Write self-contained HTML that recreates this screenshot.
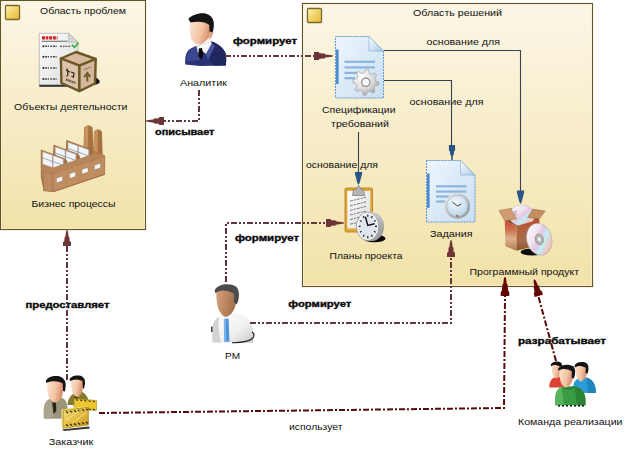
<!DOCTYPE html>
<html><head><meta charset="utf-8">
<style>
html,body{margin:0;padding:0;background:#fff;width:631px;height:460px;overflow:hidden}
svg{display:block}
text{font-family:"Liberation Sans",sans-serif;font-size:9.4px;fill:#111}
.b{font-weight:bold;font-size:8.9px;fill:#0a0a0a;stroke:#0a0a0a;stroke-width:0.35px}
</style></head><body>
<svg width="631" height="460" viewBox="0 0 631 460">
<rect x="0.5" y="0.5" width="145" height="229" fill="url(#boxg)" stroke="#5f5529" stroke-width="1.15"/>
<rect x="1.5" y="1.5" width="143" height="227" fill="none" stroke="#fff8dc" stroke-width="0.8" opacity="0.7"/>
<rect x="5.5" y="5.5" width="14" height="14" rx="1" fill="url(#sq)" stroke="#7a6a2a" stroke-width="1.3"/>
<rect x="302.5" y="3.5" width="290" height="283" fill="url(#boxg)" stroke="#5f5529" stroke-width="1.15"/>
<rect x="303.5" y="4.5" width="288" height="281" fill="none" stroke="#fff8dc" stroke-width="0.8" opacity="0.7"/>
<rect x="307.5" y="8.5" width="14" height="14" rx="1" fill="url(#sq)" stroke="#7a6a2a" stroke-width="1.3"/>
<defs>
<linearGradient id="boxg" x1="0" y1="0" x2="0" y2="1">
<stop offset="0" stop-color="#fcf6e6"/><stop offset="1" stop-color="#f2e2a9"/>
</linearGradient>
<linearGradient id="sq" x1="0" y1="0" x2="1" y2="1">
<stop offset="0" stop-color="#fff6c0"/><stop offset="0.45" stop-color="#f4d670"/><stop offset="1" stop-color="#e6b433"/>
</linearGradient>
<linearGradient id="skin" x1="0" y1="0" x2="1" y2="0.3">
<stop offset="0" stop-color="#fde6d2"/><stop offset="0.6" stop-color="#f3c4a4"/><stop offset="1" stop-color="#d98f6c"/>
</linearGradient>
<linearGradient id="skin2" x1="0" y1="0" x2="1" y2="0.3">
<stop offset="0" stop-color="#d9a47c"/><stop offset="1" stop-color="#a56f4c"/>
</linearGradient>
<linearGradient id="suit" x1="0" y1="0" x2="1" y2="1">
<stop offset="0" stop-color="#4852a0"/><stop offset="1" stop-color="#1e2660"/>
</linearGradient>
<linearGradient id="shirt" x1="0" y1="0" x2="1" y2="1">
<stop offset="0" stop-color="#ffffff"/><stop offset="0.6" stop-color="#f0f0f0"/><stop offset="1" stop-color="#c8c8c8"/>
</linearGradient>
<linearGradient id="doc" x1="0" y1="0" x2="1" y2="1">
<stop offset="0" stop-color="#eef6fd"/><stop offset="1" stop-color="#c9def2"/>
</linearGradient>
<linearGradient id="fold" x1="0" y1="0" x2="1" y2="1">
<stop offset="0" stop-color="#ffffff"/><stop offset="1" stop-color="#a9c8e6"/>
</linearGradient>
<radialGradient id="gear" cx="0.35" cy="0.3" r="0.8">
<stop offset="0" stop-color="#ffffff"/><stop offset="0.6" stop-color="#d8d8d8"/><stop offset="1" stop-color="#9a9a9a"/>
</radialGradient>
<radialGradient id="clockface" cx="0.4" cy="0.35" r="0.7">
<stop offset="0" stop-color="#f4f9ff"/><stop offset="1" stop-color="#b9d3ea"/>
</radialGradient>
<linearGradient id="ring" x1="0" y1="0" x2="1" y2="1">
<stop offset="0" stop-color="#f2f2f2"/><stop offset="1" stop-color="#8a8a8a"/>
</linearGradient>
<linearGradient id="cd" x1="0" y1="0" x2="1" y2="1">
<stop offset="0" stop-color="#f4f4f4"/><stop offset="0.3" stop-color="#e8d6ec"/><stop offset="0.55" stop-color="#c9eef4"/><stop offset="0.8" stop-color="#f2c8c0"/><stop offset="1" stop-color="#8ad8e8"/>
</linearGradient>
<linearGradient id="paper" x1="0" y1="0" x2="1" y2="1">
<stop offset="0" stop-color="#ffffff"/><stop offset="1" stop-color="#d9d9d9"/>
</linearGradient>
<linearGradient id="gold" x1="0" y1="0" x2="1" y2="1">
<stop offset="0" stop-color="#fbe07a"/><stop offset="1" stop-color="#c99a14"/>
</linearGradient>
<linearGradient id="cd2" x1="0" y1="0" x2="1" y2="1">
<stop offset="0" stop-color="#ffffff"/><stop offset="0.35" stop-color="#f1e6f2"/><stop offset="0.5" stop-color="#e6c6e0"/><stop offset="0.62" stop-color="#bfeef6"/><stop offset="0.8" stop-color="#f4c4bc"/><stop offset="1" stop-color="#6fd0e6"/>
</linearGradient>
<linearGradient id="boxl" x1="0" y1="0" x2="0" y2="1">
<stop offset="0" stop-color="#d24632"/><stop offset="0.3" stop-color="#c9744e"/><stop offset="0.6" stop-color="#deb08c"/><stop offset="1" stop-color="#b07850"/>
</linearGradient>
<linearGradient id="boxr" x1="0" y1="0" x2="0" y2="1">
<stop offset="0" stop-color="#c43c2a"/><stop offset="0.25" stop-color="#b0603c"/><stop offset="0.7" stop-color="#a86c46"/><stop offset="1" stop-color="#8a5434"/>
</linearGradient>
</defs>

<path d="M335.5,36.5 L369.0,36.5 L383.5,51.0 L383.5,98.0 L335.5,98.0 Z" fill="url(#doc)" stroke="#5f97cf" stroke-width="1" stroke-dasharray="2 1"/>
<path d="M369.0,36.5 L369.0,51.0 L383.5,51.0 Z" fill="url(#fold)" stroke="#7aaad8" stroke-width="0.6"/>
<rect x="336.0" y="49.5" width="2.6" height="34.440000000000005" fill="#4b8dcc"/>
<rect x="344.5" y="60.7" width="30.5" height="2.2" fill="#8cb5dd"/>
<rect x="344.5" y="66.3" width="30.5" height="2.2" fill="#8cb5dd"/>
<rect x="344.5" y="71.8" width="15.5" height="2.2" fill="#8cb5dd"/>
<rect x="344.5" y="77.1" width="10.5" height="2.2" fill="#8cb5dd"/>
<polygon points="378.80,82.30 378.55,84.84 374.69,85.98 373.80,87.64 374.99,91.49 373.02,93.11 369.48,91.19 367.68,91.74 365.80,95.30 363.26,95.05 362.12,91.19 360.46,90.30 356.61,91.49 354.99,89.52 356.91,85.98 356.36,84.18 352.80,82.30 353.05,79.76 356.91,78.62 357.80,76.96 356.61,73.11 358.58,71.49 362.12,73.41 363.92,72.86 365.80,69.30 368.34,69.55 369.48,73.41 371.14,74.30 374.99,73.11 376.61,75.08 374.69,78.62 375.24,80.42" fill="url(#gear)" stroke="#9a9a9a" stroke-width="0.6"/><circle cx="365.8" cy="82.3" r="4.16" fill="#f8f8f8" stroke="#8a8a8a" stroke-width="1.2"/>
<path d="M426.5,160.5 L460.5,160.5 L475.0,175.0 L475.0,222.0 L426.5,222.0 Z" fill="url(#doc)" stroke="#5f97cf" stroke-width="1" stroke-dasharray="2 1"/>
<path d="M460.5,160.5 L460.5,175.0 L475.0,175.0 Z" fill="url(#fold)" stroke="#7aaad8" stroke-width="0.6"/>
<rect x="427.0" y="173.5" width="2.6" height="34.440000000000005" fill="#4b8dcc"/>
<rect x="436" y="185.2" width="30.399999999999977" height="2.2" fill="#8cb5dd"/>
<rect x="436" y="190.5" width="30.399999999999977" height="2.2" fill="#8cb5dd"/>
<rect x="436" y="195.4" width="14" height="2.2" fill="#8cb5dd"/>
<rect x="436" y="200.4" width="9" height="2.2" fill="#8cb5dd"/>
<circle cx="457.3" cy="206" r="12.8" fill="url(#ring)"/>
<circle cx="457.3" cy="206" r="10.600000000000001" fill="url(#clockface)" stroke="#9aa" stroke-width="0.5"/>
<path d="M452.3,202 L457.3,206 L461.3,204" fill="none" stroke="#444" stroke-width="1"/>
<rect x="456.5" y="214.8" width="1.6" height="2" fill="#c04020"/>
<rect x="345" y="188" width="27.5" height="44" rx="1.5" fill="#e0a533" stroke="#b3761a" stroke-width="0.8"/>
<rect x="347.3" y="191" width="23" height="37.5" fill="url(#paper)"/>
<path d="M350,201.2 L366,197.2" stroke="#6a6a6a" stroke-width="0.9" stroke-dasharray="3 1 2 1"/>
<path d="M350,205.79999999999998 L366,201.79999999999998" stroke="#6a6a6a" stroke-width="0.9" stroke-dasharray="3 1 2 1"/>
<path d="M350,210.39999999999998 L366,206.39999999999998" stroke="#6a6a6a" stroke-width="0.9" stroke-dasharray="3 1 2 1"/>
<path d="M350,215.0 L366,211.0" stroke="#6a6a6a" stroke-width="0.9" stroke-dasharray="3 1 2 1"/>
<path d="M350,219.6 L366,215.6" stroke="#6a6a6a" stroke-width="0.9" stroke-dasharray="3 1 2 1"/>
<path d="M350,224.2 L366,220.2" stroke="#6a6a6a" stroke-width="0.9" stroke-dasharray="3 1 2 1"/>
<path d="M352.5,195.5 L353.5,190 L356,189.2 L358.5,185.5 L361,189.2 L363.5,190 L364.5,195.5 Z" fill="#b5b5b5" stroke="#777" stroke-width="0.7"/>
<ellipse cx="374.5" cy="238.5" rx="11" ry="3.8" fill="#0a0a0a"/>
<ellipse cx="371.8" cy="226.5" rx="12.2" ry="14.6" fill="url(#ring)"/>
<ellipse cx="367.6" cy="226.4" rx="11.2" ry="14.2" fill="#f6f8fa" stroke="#8f8f8f" stroke-width="0.8"/>
<ellipse cx="367.9" cy="226.6" rx="9.4" ry="12.3" fill="#dfe5ec"/>
<line x1="377.00" y1="226.40" x2="375.00" y2="226.40" stroke="#1a1a1a" stroke-width="1.1"/>
<line x1="375.77" y1="232.40" x2="374.04" y2="231.20" stroke="#1a1a1a" stroke-width="1.1"/>
<line x1="372.40" y1="236.79" x2="371.40" y2="234.71" stroke="#1a1a1a" stroke-width="1.1"/>
<line x1="367.80" y1="238.40" x2="367.80" y2="236.00" stroke="#1a1a1a" stroke-width="1.1"/>
<line x1="363.20" y1="236.79" x2="364.20" y2="234.71" stroke="#1a1a1a" stroke-width="1.1"/>
<line x1="359.83" y1="232.40" x2="361.56" y2="231.20" stroke="#1a1a1a" stroke-width="1.1"/>
<line x1="358.60" y1="226.40" x2="360.60" y2="226.40" stroke="#1a1a1a" stroke-width="1.1"/>
<line x1="359.83" y1="220.40" x2="361.56" y2="221.60" stroke="#1a1a1a" stroke-width="1.1"/>
<line x1="363.20" y1="216.01" x2="364.20" y2="218.09" stroke="#1a1a1a" stroke-width="1.1"/>
<line x1="367.80" y1="214.40" x2="367.80" y2="216.80" stroke="#1a1a1a" stroke-width="1.1"/>
<line x1="372.40" y1="216.01" x2="371.40" y2="218.09" stroke="#1a1a1a" stroke-width="1.1"/>
<line x1="375.77" y1="220.40" x2="374.04" y2="221.60" stroke="#1a1a1a" stroke-width="1.1"/>
<path d="M365.4,216.8 L367.8,225.5 L374.5,223.8" fill="none" stroke="#111" stroke-width="1.4"/>
<ellipse cx="532" cy="252" rx="11.5" ry="3.6" fill="#0c0c0c"/>
<polygon points="504.8,220.8 510.7,208.4 532.8,209.1 539.3,219.5 516.5,226" fill="#8a4a2c"/>
<ellipse cx="522" cy="215.5" rx="12.8" ry="10.5" fill="url(#cd2)" stroke="#a8a8b8" stroke-width="0.4"/>
<path d="M514,211 l0,5 M516,210 l0,6 M512,213 l0,4" stroke="#9a7aa0" stroke-width="0.7"/>
<polygon points="504.8,220.8 516.5,226 516.5,250.8 505.4,246.3" fill="url(#boxl)"/>
<polygon points="516.5,226 539.3,219.5 539.3,245 516.5,250.8" fill="url(#boxr)"/>
<polygon points="498.9,210.4 510.7,208.4 516.5,218.9 504.8,220.8" fill="#cf9c72" stroke="#9a6a45" stroke-width="0.5"/>
<polygon points="532.8,209.1 545.2,211 539.3,218.9 527.6,217.6" fill="#c48d62" stroke="#9a6a45" stroke-width="0.5"/>
<ellipse cx="539.3" cy="239.3" rx="12.6" ry="16.2" transform="rotate(-14 539.3 239.3)" fill="url(#cd2)" stroke="#a0a0aa" stroke-width="0.5"/>
<ellipse cx="539.3" cy="239.3" rx="4" ry="5.4" transform="rotate(-14 539.3 239.3)" fill="#b4b4b4" stroke="#7a7a7a" stroke-width="0.6"/>
<ellipse cx="539.3" cy="239.3" rx="1.5" ry="2.1" transform="rotate(-14 539.3 239.3)" fill="#f4f4f4"/>
<path d="M39.3,33.3 L68.6,33.3 L78,42.4 L78,86.5 L39.3,86.5 Z" fill="url(#paper)" stroke="#b0b0b0" stroke-width="0.8"/>
<path d="M39.3,84.8 L78,84.8 L78,86.8 L39.3,86.8 Z" fill="#333"/>
<path d="M68.6,33.3 L68.6,42.4 L78,42.4 Z" fill="#d4d4d4" stroke="#a8a8a8" stroke-width="0.5"/>
<path d="M42,37.8 L57.5,37.8" stroke="#d42424" stroke-width="3.2" stroke-dasharray="3 0.8 2.5 0.8 3 0.8"/>
<rect x="41.5" y="40.8" width="26" height="0.8" fill="#444"/>
<rect x="42.5" y="45.4" width="1.8" height="1.8" fill="#222"/>
<path d="M45.2,46.3 L58,46.3" stroke="#444" stroke-width="1.5" stroke-dasharray="2 0.7 1 1.5 1.5 1"/>
<rect x="42.5" y="55.9" width="1.8" height="1.8" fill="#222"/>
<path d="M45.2,56.8 L58,56.8" stroke="#444" stroke-width="1.5" stroke-dasharray="2 0.7 1 1.5 1.5 1"/>
<rect x="42.5" y="67.0" width="1.8" height="1.8" fill="#222"/>
<path d="M45.2,67.9 L58,67.9" stroke="#444" stroke-width="1.5" stroke-dasharray="2 0.7 1 1.5 1.5 1"/>
<rect x="42.5" y="78.1" width="1.8" height="1.8" fill="#222"/>
<path d="M45.2,79 L58,79" stroke="#444" stroke-width="1.5" stroke-dasharray="2 0.7 1 1.5 1.5 1"/>
<path d="M60,46.3 L71,46.3" stroke="#555" stroke-width="1.3" stroke-dasharray="2 1 1.5 0.8 2 1"/>
<path d="M72,44.8 L74.5,47.2 L78.5,42.6" fill="none" stroke="#38b038" stroke-width="1.7"/>
<polygon points="95.5,77 99.5,80.5 99.5,83 95.3,85" fill="#111"/>
<polygon points="60.9,58.5 76.1,52 95.7,59 79.4,65.6" fill="#d9b99d" stroke="#6a5826" stroke-width="2.4" stroke-linejoin="round"/>
<polygon points="60.9,58.5 79.4,65.6 79.4,91.1 61.4,83" fill="#dcc3aa" stroke="#6a5826" stroke-width="2.4" stroke-linejoin="round"/>
<polygon points="79.4,65.6 95.7,59 95.1,83.5 79.4,91.1" fill="#d3b89c" stroke="#6a5826" stroke-width="2.4" stroke-linejoin="round"/>
<path d="M66,70 l4,2 M67,68.5 l1,6 l-1.5,2 M71,72 l3,1.2 l-0.5,4 l-2,-1" stroke="#2a2418" stroke-width="1.2" fill="none"/>
<path d="M66,79.5 L75.5,83" stroke="#4a4030" stroke-width="2.2" stroke-dasharray="1 0.6"/>
<path d="M87.3,81.5 L87.3,75 M84.3,77.3 L87.3,73 L90.3,76.8" stroke="#6e5e2a" stroke-width="2" fill="none"/>
<path d="M84,69.5 L91.5,67" stroke="#6e5e2a" stroke-width="1" stroke-dasharray="1.5 0.8"/>
<path d="M83.8,150 L84.6,127.5 Q88.4,124 92.2,127.5 L93,150 Z" fill="#a8723f" stroke="#8a5a30" stroke-width="0.6"/>
<path d="M84.6,127.5 Q86.5,125.5 88.2,125.5 L87.8,150 L83.8,150 Z" fill="#c9925e"/>
<path d="M93.5,157 L94.3,131.5 Q97.9,128 101.5,131.5 L102.3,157 Z" fill="#a8723f" stroke="#8a5a30" stroke-width="0.6"/>
<path d="M94.3,131.5 Q96,129.5 97.8,129.5 L97.5,157 L93.5,157 Z" fill="#c9925e"/>
<polygon points="41.2,150 53,154.5 53.9,145 65.8,150.6 66.6,140.3 90.4,149 104.7,155.3 104.7,174.4 53,191.8 43.6,191 41.2,179" fill="#b07a4b"/>
<polygon points="66.6,140.6 90.1,149.2 90.1,176.6 66.6,168.6" fill="#b8845a" stroke="#8c5c33" stroke-width="0.5"/>
<polygon points="90.1,149.2 92.6,151.6 92.6,176.6 90.1,176.6" fill="#9c6a42"/>
<polygon points="68.19999999999999,142.5 77.6,145.9 77.6,157.9 68.19999999999999,154.5" fill="#f2f6fa" stroke="#b9c6d0" stroke-width="0.4"/>
<polygon points="78.69999999999999,146.29999999999998 88.39999999999999,149.79999999999998 88.39999999999999,161.79999999999998 78.69999999999999,158.29999999999998" fill="#f2f6fa" stroke="#b9c6d0" stroke-width="0.4"/>
<path d="M68.19999999999999,148.5 L88.39999999999999,155.79999999999998" stroke="#8595a4" stroke-width="0.8"/>
<polygon points="53.9,145.2 77.4,153.79999999999998 77.4,181.2 53.9,173.2" fill="#b8845a" stroke="#8c5c33" stroke-width="0.5"/>
<polygon points="77.4,153.79999999999998 79.9,156.2 79.9,181.2 77.4,181.2" fill="#9c6a42"/>
<polygon points="55.5,147.1 64.9,150.5 64.9,162.5 55.5,159.1" fill="#f2f6fa" stroke="#b9c6d0" stroke-width="0.4"/>
<polygon points="66.0,150.89999999999998 75.7,154.39999999999998 75.7,166.39999999999998 66.0,162.89999999999998" fill="#f2f6fa" stroke="#b9c6d0" stroke-width="0.4"/>
<path d="M55.5,153.1 L75.7,160.39999999999998" stroke="#8595a4" stroke-width="0.8"/>
<polygon points="41.2,150 64.7,158.6 64.7,186 41.2,178" fill="#b8845a" stroke="#8c5c33" stroke-width="0.5"/>
<polygon points="64.7,158.6 67.2,161 67.2,186 64.7,186" fill="#9c6a42"/>
<polygon points="42.800000000000004,151.9 52.2,155.3 52.2,167.3 42.800000000000004,163.9" fill="#f2f6fa" stroke="#b9c6d0" stroke-width="0.4"/>
<polygon points="53.300000000000004,155.7 63.0,159.2 63.0,171.2 53.300000000000004,167.7" fill="#f2f6fa" stroke="#b9c6d0" stroke-width="0.4"/>
<path d="M42.800000000000004,157.9 L63.0,165.2" stroke="#8595a4" stroke-width="0.8"/>
<polygon points="43.6,170.8 53,173.8 53,191.8 43.6,190.5" fill="#bb8a5e" stroke="#9a6a42" stroke-width="0.5"/>
<polygon points="53,173.8 104.7,156.1 104.7,174.4 53,191.8" fill="#c08d61" stroke="#9a6a42" stroke-width="0.5"/>
<polygon points="43.6,170.8 95,153.3 104.7,156.1 53,173.8" fill="#b7855a"/>
<path d="M53,191.8 L104.7,174.4" stroke="#9a6a42" stroke-width="0.8"/>
<polygon points="56.5,178.2 62.5,176.2 62.5,180.79999999999998 56.5,182.79999999999998" fill="#f4f8fa" stroke="#8a7a6a" stroke-width="0.4"/>
<polygon points="69.5,173.8 75.5,171.8 75.5,176.4 69.5,178.4" fill="#f4f8fa" stroke="#8a7a6a" stroke-width="0.4"/>
<polygon points="82,169.5 88,167.5 88,172.1 82,174.1" fill="#f4f8fa" stroke="#8a7a6a" stroke-width="0.4"/>
<polygon points="94.5,165.2 100.5,163.2 100.5,167.79999999999998 94.5,169.79999999999998" fill="#f4f8fa" stroke="#8a7a6a" stroke-width="0.4"/>
<path d="M185.3,64.5 C184.8,57 186,51.5 190,49 C193,47 196,46 198,45.5 L211.5,41.5 C218,43.5 223.5,48 225.5,53 C226.5,57 226.3,61 225.8,65.5 L200,66 Z" fill="#283274"/>
<path d="M186.5,62 C186,56 188,51 192,48.5 L197,46.5 L199.5,60 Z" fill="#3b4590"/>
<path d="M211.5,41.5 C218,43.5 223.5,48 225.5,53 C226.5,57 226.3,61 225.8,65.5 L214,65.8 L207,56 Z" fill="#1f275e"/>
<path d="M196.5,46 L210.5,41.5 L212,43.5 L206,54 L201,50 L198,53 Z" fill="#f6f6f6"/>
<path d="M198.7,48.5 L202,48 L203.3,55.5 L201,60 L198.5,56 Z" fill="#0c0c0c"/>
<path d="M206,54 L212,43.5 L215,46 L208,60 Z" fill="#4a55a2"/>
<path d="M190,22 C189.5,30 190,37 192,40 C194,43 197,44.5 199.5,44.5 C203,44 206.5,41 208.5,37.5 L210.5,31 L211,24 C207,21 197,20.5 190,22 Z" fill="url(#skin)"/>
<path d="M188.3,19 C191,15.5 197,13 203.5,13.2 C209,13.5 213.5,17.5 213.8,23 C214,27 213.3,31 212.3,33.5 L211,37 L209.5,31.5 L209.3,25 C205,21.5 198,21 190.5,22.5 Z" fill="#141414"/>
<path d="M209.5,32 C211.5,31 213,32.5 212.5,35 C212,37.5 210.5,39 208.5,39.5 Z" fill="#e0a584"/>
<path d="M212.3,342.5 L212.3,330 C212.5,322 217,317.5 222,315.5 L236,313 C245,315 252,320 252.8,330 L253,342.8 Z" fill="url(#shirt)"/>
<path d="M212.3,342.5 L212.3,330 C212.5,322 216,318.5 219,317 C218,325 219,335 221,342.5 Z" fill="#d2d2d2"/>
<path d="M223.8,319 L228.6,318.5 L229.5,341.8 L224.2,341.8 Z" fill="#4f95dc"/>
<path d="M224,319 L226,318.8 L226,341.8 L224.2,341.8 Z" fill="#7ab4ec"/>
<path d="M211.8,326.5 L211.8,332" stroke="#111" stroke-width="1.2"/>
<path d="M232,342.7 C240,343 251,341.5 253.5,337 C254.5,335 253.5,333 252,332" fill="none" stroke="#111" stroke-width="1.1"/>
<path d="M216.30,289.28 C216.00,304.13 218.30,313.70 225.30,317.00 C232.30,316.34 236.30,307.10 236.70,297.53 C236.30,284.00 216.30,284.00 216.30,289.28 Z" fill="url(#skin2)"/><path d="M214.70,289.94 C218.30,283.34 230.30,282.68 236.30,286.64 C240.30,290.60 239.30,300.50 236.70,304.46 L233.90,302.15 L234.30,293.90 C226.30,289.61 220.30,289.61 215.30,293.24 Z" fill="#4c4c4c"/>
<path d="M67.5,405 C68,398 71.5,394 76,392.5 L82,392 C86.5,394 88.8,398 88.8,405 Z" fill="#857b30"/>
<path d="M74,393.5 L76.5,392.5 L78,400 L76,404 Z" fill="#2e2a10"/>
<path d="M71,380 C70.8,386 71.5,391 73,393.5 C74.5,396 76,397 77.5,397 C80,396.5 81.5,394 82.5,390.5 L83,384 L83,380 C79,378.5 74,378.5 71,380 Z" fill="url(#skin)"/>
<path d="M69.5,379.5 C70.5,376.5 75,375 79,375.5 C83,376 85.5,379 85,383.5 L84,389 L82.8,388 L82.5,381 C78.5,379 74,379 70,381 Z" fill="#151515"/>
<path d="M43.8,418.5 L43.8,409 C44.3,402.5 48,399.5 53,398 L61,397.5 C65.5,399 67.5,403 67.5,409 L67.5,418.8 Z" fill="#9a9479"/>
<path d="M43.8,418.5 L43.8,409 C44.3,402.5 47,400 50,398.8 L54,415 L52,418.8 Z" fill="#aaa58c"/>
<path d="M52.3,402.5 L56,402.5 L56.3,411 L53.5,414 Z" fill="#2a2416"/>
<path d="M47.3,381.5 C47,390 47.5,396 50,399 C52,401.5 54,402.5 56,402.3 C59,402 61.5,399 62.5,395 L63.3,388 L63.3,382 C58,379.5 52,379.5 47.3,381.5 Z" fill="url(#skin)"/>
<path d="M45.8,381 C47,377.5 52.5,375.5 57.5,376 C62.5,376.5 66,380 65.7,385.5 L65,391.5 L63,391 L62.8,383.5 C58,380.5 51,380.5 46.3,383 Z" fill="#141414"/>
<polygon points="74,398.5 96.5,400.5 96.5,410.5 74,409" fill="#ecc62e" stroke="#9a7810" stroke-width="0.5"/>
<path d="M76.0,399.6 l2,0.9 M76.0,408.2 l2,0.9" stroke="#3a2c08" stroke-width="1.1"/>
<path d="M80.2,399.95000000000005 l2,0.9 M80.2,408.4 l2,0.9" stroke="#3a2c08" stroke-width="1.1"/>
<path d="M84.4,400.3 l2,0.9 M84.4,408.59999999999997 l2,0.9" stroke="#3a2c08" stroke-width="1.1"/>
<path d="M88.6,400.65000000000003 l2,0.9 M88.6,408.8 l2,0.9" stroke="#3a2c08" stroke-width="1.1"/>
<path d="M92.8,401.0 l2,0.9 M92.8,409.0 l2,0.9" stroke="#3a2c08" stroke-width="1.1"/>
<polygon points="62,429.5 89,426.5 90,428.5 64,431" fill="#111" opacity="0.85"/>
<polygon points="61.5,409.5 63.2,410.7 63.2,428.5 61.5,426.8" fill="#f3e08a"/>
<polygon points="61.5,409.5 86.5,406 88.4,407.2 63.2,410.7" fill="#f6dc60"/>
<polygon points="63.2,410.7 88.4,407.2 88.4,425 63.2,428.5" fill="url(#gold)" stroke="#8a6a08" stroke-width="0.5"/>
<path d="M66,411.6 l2.2,1.3 M66,424.6 l2.2,1.3" stroke="#2e2206" stroke-width="1.2"/>
<path d="M70,411.05 l2.2,1.3 M70,424.1 l2.2,1.3" stroke="#2e2206" stroke-width="1.2"/>
<path d="M74,410.5 l2.2,1.3 M74,423.6 l2.2,1.3" stroke="#2e2206" stroke-width="1.2"/>
<path d="M78,409.95000000000005 l2.2,1.3 M78,423.1 l2.2,1.3" stroke="#2e2206" stroke-width="1.2"/>
<path d="M82,409.40000000000003 l2.2,1.3 M82,422.6 l2.2,1.3" stroke="#2e2206" stroke-width="1.2"/>
<path d="M86,408.85 l2.2,1.3 M86,422.1 l2.2,1.3" stroke="#2e2206" stroke-width="1.2"/>
<path d="M66,420 L80,410.5 M72,423 L86,413" stroke="#fff2a0" stroke-width="0.9" opacity="0.7"/>
<path d="M549.3,387.5 C549.3,381.5 551.5,378 555.5,377 L561.5,376.8 C563.5,379 564,383 563.5,387.5 Z" fill="#dc4232"/>
<path d="M551.55,364.22 C551.25,371.87 552.50,376.80 555.82,378.50 C559.15,378.16 561.05,373.40 561.24,368.47 C561.05,361.50 551.55,361.50 551.55,364.22 Z" fill="url(#skin)"/><path d="M550.79,364.56 C552.50,361.16 558.20,360.82 561.05,362.86 C562.95,364.90 562.47,370.00 561.24,372.04 L559.91,370.85 L560.10,366.60 C556.30,364.39 553.45,364.39 551.07,366.26 Z" fill="#141414"/>
<path d="M573.3,393 L573.3,386 C573.8,381 577,378.3 581,377.5 L586.5,377.5 C592.5,379.5 595.8,383.5 596,393 Z" fill="#2a9cd6"/>
<path d="M586.5,377.5 C592.5,379.5 595.8,383.5 596,393 L588,393 Z" fill="#1f86bd"/>
<path d="M575.45,365.12 C575.15,373.89 576.60,379.55 580.62,381.50 C584.65,381.11 586.95,375.65 587.18,370.00 C586.95,362.00 575.45,362.00 575.45,365.12 Z" fill="url(#skin)"/><path d="M574.53,365.51 C576.60,361.61 583.50,361.22 586.95,363.56 C589.25,365.90 588.68,371.75 587.18,374.09 L585.57,372.73 L585.80,367.85 C581.20,365.31 577.75,365.31 574.88,367.46 Z" fill="#141414"/>
<path d="M555.2,405.3 L555.3,397 C555.8,390.5 560,387.2 565.5,386.2 L574.5,386.2 C581.5,387.8 585.2,392 585.5,400 L585.5,405.3 Z" fill="#3a9c42"/>
<path d="M555.2,405.3 L555.3,397 C555.8,390.5 558.5,388 561.5,387 L564,405.3 Z" fill="#56b45c"/>
<path d="M574.5,386.2 C581.5,387.8 585.2,392 585.5,400 L585.5,405.3 L577,405.3 Z" fill="#2b8232"/>
<path d="M563.5,387 C566,389.5 571,389.5 574,386.5" fill="none" stroke="#1d5a22" stroke-width="0.9"/>
<path d="M558,405.8 L584,405.8" stroke="#111" stroke-width="1.6" stroke-dasharray="2 2"/>
<path d="M559.30,368.18 C559.00,378.53 560.70,385.20 565.60,387.50 C570.50,387.04 573.30,380.60 573.58,373.93 C573.30,364.50 559.30,364.50 559.30,368.18 Z" fill="url(#skin)"/><path d="M558.18,368.64 C560.70,364.04 569.10,363.58 573.30,366.34 C576.10,369.10 575.40,376.00 573.58,378.76 L571.62,377.15 L571.90,371.40 C566.30,368.41 562.10,368.41 558.60,370.94 Z" fill="#141414"/>
<text x="40" y="13.6" textLength="86" lengthAdjust="spacingAndGlyphs">Область проблем</text>
<text x="14" y="109.5" textLength="113.5" lengthAdjust="spacingAndGlyphs">Объекты деятельности</text>
<text x="31.5" y="207.4" textLength="84" lengthAdjust="spacingAndGlyphs">Бизнес процессы</text>
<text x="180" y="85.9" textLength="47" lengthAdjust="spacingAndGlyphs">Аналитик</text>
<text x="413" y="16.2" textLength="89" lengthAdjust="spacingAndGlyphs">Область решений</text>
<text x="426.5" y="45.1" textLength="73.5" lengthAdjust="spacingAndGlyphs">основание для</text>
<text x="409.5" y="105" textLength="74" lengthAdjust="spacingAndGlyphs">основание для</text>
<text x="322" y="113.4" textLength="73.5" lengthAdjust="spacingAndGlyphs">Спецификации</text>
<text x="331" y="126.9" textLength="58" lengthAdjust="spacingAndGlyphs">требований</text>
<text x="306" y="167.9" textLength="72" lengthAdjust="spacingAndGlyphs">основание для</text>
<text x="430" y="237.4" textLength="42.5" lengthAdjust="spacingAndGlyphs">Задания</text>
<text x="329.5" y="259" textLength="73" lengthAdjust="spacingAndGlyphs">Планы проекта</text>
<text x="469.5" y="275.4" textLength="109.5" lengthAdjust="spacingAndGlyphs">Программный продукт</text>
<text x="225" y="359" textLength="15" lengthAdjust="spacingAndGlyphs">PM</text>
<text x="48.7" y="444.5" textLength="44.5" lengthAdjust="spacingAndGlyphs">Заказчик</text>
<text x="518" y="425.2" textLength="104.5" lengthAdjust="spacingAndGlyphs">Команда реализации</text>
<text x="289" y="429.6" textLength="53.5" lengthAdjust="spacingAndGlyphs">использует</text>
<text class="b" x="233" y="43.7" textLength="64" lengthAdjust="spacingAndGlyphs">формирует</text>
<text class="b" x="155" y="135.1" textLength="59.5" lengthAdjust="spacingAndGlyphs">описывает</text>
<text class="b" x="235" y="240.9" textLength="64" lengthAdjust="spacingAndGlyphs">формирует</text>
<text class="b" x="288.3" y="307.4" textLength="63" lengthAdjust="spacingAndGlyphs">формирует</text>
<text class="b" x="25.5" y="308.4" textLength="84" lengthAdjust="spacingAndGlyphs">предоставляет</text>
<text class="b" x="518" y="344.4" textLength="88" lengthAdjust="spacingAndGlyphs">разрабатывает</text>

<g stroke="#33434f" stroke-width="1.1" fill="none">
<polyline points="384,50.5 520.5,50.5 520.5,192"/>
<polyline points="384,80.5 451.5,80.5 451.5,150"/>
<polyline points="358.5,132 358.5,176"/>
</g>
<g stroke="#60373a" stroke-width="2" fill="none" stroke-dasharray="6 2 2 2 2 2">
<polyline points="225,56 316,56"/>
<polyline points="199,90 199,121 163,121"/>
<polyline points="67,380 67,246"/>
<polyline points="226,282 226,223 326,223"/>
<polyline points="250,323 451,323 451,256"/>
</g>
<g stroke="#560a0a" stroke-width="2" fill="none" stroke-dasharray="6 2 2 2">
<polyline points="99,413 504,408 505,296"/>
<polyline points="556,361 538,295"/>
</g>
<polygon points="516.90,190.50 516.90,192.45 518.12,197.00 519.06,200.90 520.07,203.50 520.93,203.50 521.94,200.90 522.88,197.00 524.10,192.45 524.10,190.50" fill="#2a5486"/><polygon points="448.90,145.00 448.90,150.70 449.95,151.30 450.14,154.75 451.07,155.50 451.26,160.00 452.74,160.00 452.93,155.50 453.86,154.75 454.05,151.30 455.10,150.70 455.10,145.00" fill="#2a5486"/><polygon points="354.90,172.00 354.90,173.88 356.12,178.25 357.06,182.00 358.07,184.50 358.93,184.50 359.94,182.00 360.88,178.25 362.10,173.88 362.10,172.00" fill="#2a5486"/><polygon points="314.00,60.00 318.75,60.00 319.70,58.72 324.45,58.40 325.40,57.60 330.15,57.12 333.00,56.40 333.00,55.60 330.15,54.88 325.40,54.40 324.45,53.60 319.70,53.28 318.75,52.00 314.00,52.00" fill="#6e3538"/><polygon points="164.00,117.00 159.50,117.00 158.60,118.28 154.10,118.60 153.20,119.40 148.70,119.88 146.00,120.60 146.00,121.40 148.70,122.12 153.20,122.60 154.10,123.40 158.60,123.72 159.50,125.00 164.00,125.00" fill="#6e3538"/><polygon points="71.00,246.00 71.00,242.00 69.72,241.20 69.40,237.20 68.60,236.40 68.12,232.40 67.40,230.00 66.60,230.00 65.88,232.40 65.40,236.40 64.60,237.20 64.28,241.20 63.00,242.00 63.00,246.00" fill="#6e3538"/><polygon points="326.00,227.00 330.50,227.00 331.40,225.72 335.90,225.40 336.80,224.60 341.30,224.12 344.00,223.40 344.00,222.60 341.30,221.88 336.80,221.40 335.90,220.60 331.40,220.28 330.50,219.00 326.00,219.00" fill="#6e3538"/><polygon points="455.00,257.00 455.00,252.75 453.72,251.90 453.40,247.65 452.60,246.80 452.12,242.55 451.40,240.00 450.60,240.00 449.88,242.55 449.40,246.80 448.60,247.65 448.28,251.90 447.00,252.75 447.00,257.00" fill="#6e3538"/><polygon points="509.25,296.00 509.25,292.20 508.06,290.30 507.55,284.60 506.70,283.65 506.19,278.90 505.43,277.00 504.57,277.00 503.81,278.90 503.30,283.65 502.45,284.60 501.94,290.30 500.75,292.20 500.75,296.00" fill="#650606"/><polygon points="542.89,294.77 541.99,291.49 540.40,290.17 538.56,285.38 537.51,284.79 535.90,280.83 534.71,279.39 533.89,279.61 533.60,281.45 534.23,285.69 533.64,286.73 534.49,291.79 533.80,293.74 534.69,297.02" fill="#650606"/></svg>
</body></html>
